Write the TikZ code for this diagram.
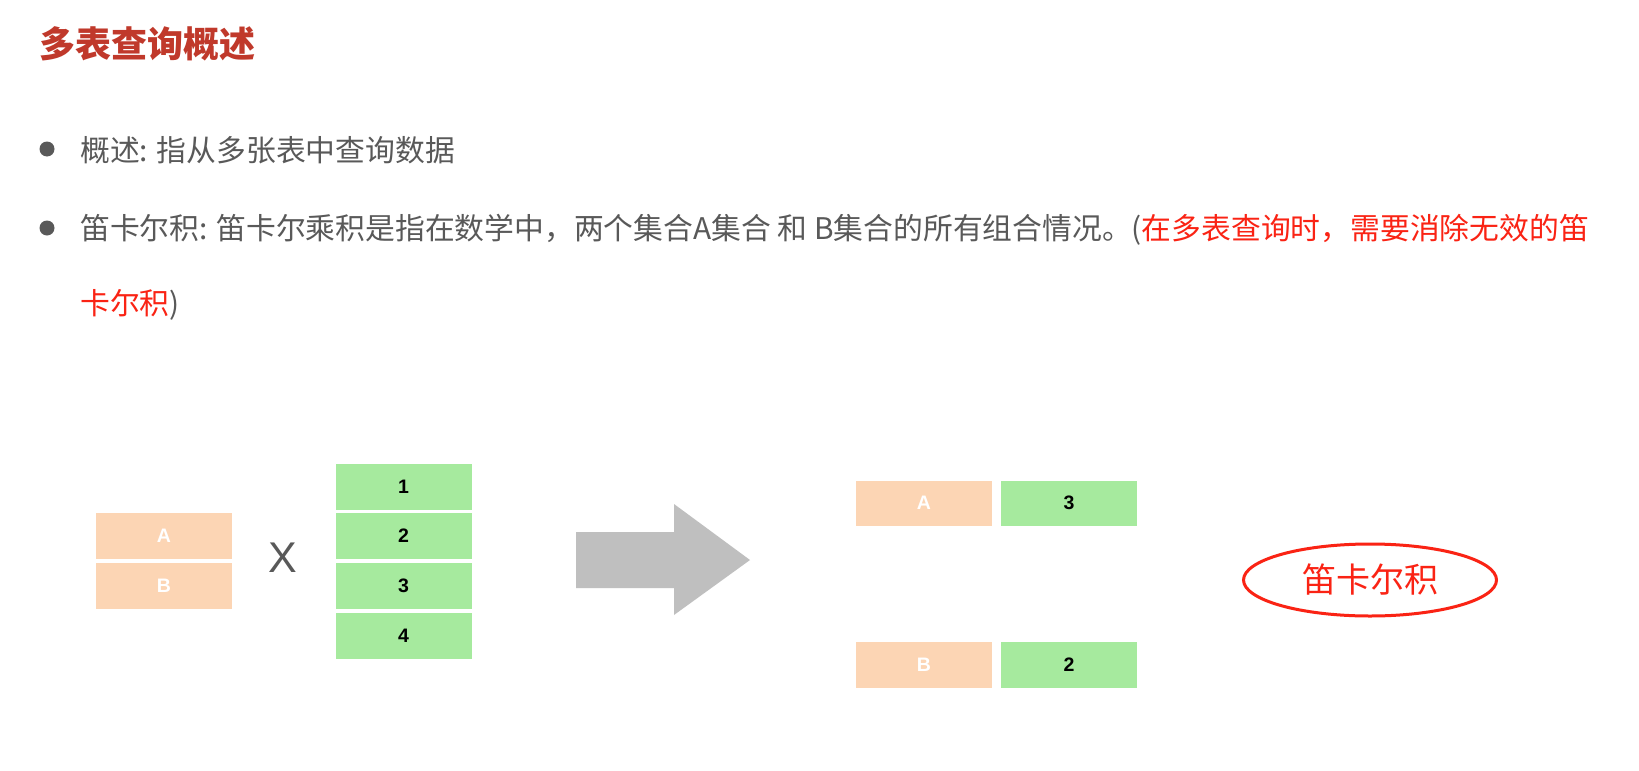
\documentclass[tikz,border=0pt]{standalone}
\usepackage{fontspec}
\usetikzlibrary{shapes.geometric}
\newfontfamily\cjk{Noto Sans CJK SC}
\newfontfamily\latin{Liberation Sans}
\definecolor{txtgray}{RGB}{89,89,89}
\definecolor{titlered}{RGB}{192,57,43}
\definecolor{hotred}{RGB}{250,35,20}
\definecolor{peach}{RGB}{252,213,180}
\definecolor{mint}{RGB}{166,234,158}
\definecolor{arrowgray}{RGB}{191,191,191}
\tikzset{
  line/.style={anchor=base west, inner sep=0pt, text=txtgray, font=\cjk\fontsize{29.8pt}{36pt}\selectfont},
  dot/.style={circle, fill=txtgray, inner sep=0pt, minimum size=15pt},
  cellA/.style={fill=peach, inner sep=0pt, minimum width=136pt, minimum height=46pt, text=white, font=\latin\bfseries\fontsize{19.5pt}{21pt}\selectfont},
  cellN/.style={fill=mint, inner sep=0pt, minimum width=136pt, minimum height=46pt, text=black, font=\latin\bfseries\fontsize{19.5pt}{21pt}\selectfont},
}
\begin{document}
\begin{tikzpicture}[x=1pt,y=-1pt]
\useasboundingbox[fill=white] (0,0) rectangle (1639,771);
% title
\node[anchor=base west, inner sep=0pt, text=titlered, font=\cjk\bfseries\fontsize{36pt}{40pt}\selectfont] (title) at (39,57) {多表查询概述};
% bullets
\node[dot] (b1) at (47,149) {};
\node[line] (l1) at (80,161) {概述: 指从多张表中查询数据};
\node[dot] (b2) at (47,228) {};
\node[line] (l2) at (80,239) {笛卡尔积: 笛卡尔乘积是指在数学中，两个集合A集合 和 B集合的所有组合情况。(\textcolor{hotred}{在多表查询时，需要消除无效的笛}};
\node[line] (l3) at (80,314) {\textcolor{hotred}{卡尔积})};
% left sets
\node[cellA] (a1) at (164,536) {A};
\node[cellA] (a2) at (164,586) {B};
\node[text=txtgray, inner sep=0pt, font=\latin\fontsize{43pt}{45pt}\selectfont] (times) at (283,558) {X};
\node[cellN] (n1) at (403.5,487) {1};
\node[cellN] (n2) at (403.5,536) {2};
\node[cellN] (n3) at (403.5,586) {3};
\node[cellN] (n4) at (403.5,635.5) {4};
% big arrow
\fill[arrowgray] (576,532) -- (674,532) -- (674,504) -- (750,560) -- (674,615) -- (674,588) -- (576,588) -- cycle;
% right result
\node[cellA, minimum height=45pt] (ra) at (924,503) {A};
\node[cellN, minimum height=45pt] (r3) at (1069,503) {3};
\node[cellA] (rb) at (924,665) {B};
\node[cellN] (r2) at (1069,665) {2};
% ellipse label
\node[ellipse, draw=hotred, line width=3pt, minimum width=253pt, minimum height=72pt, inner sep=0pt, text=hotred, font=\cjk\fontsize{34pt}{38pt}\selectfont] (cart) at (1370,580) {笛卡尔积};
\end{tikzpicture}
\end{document}
